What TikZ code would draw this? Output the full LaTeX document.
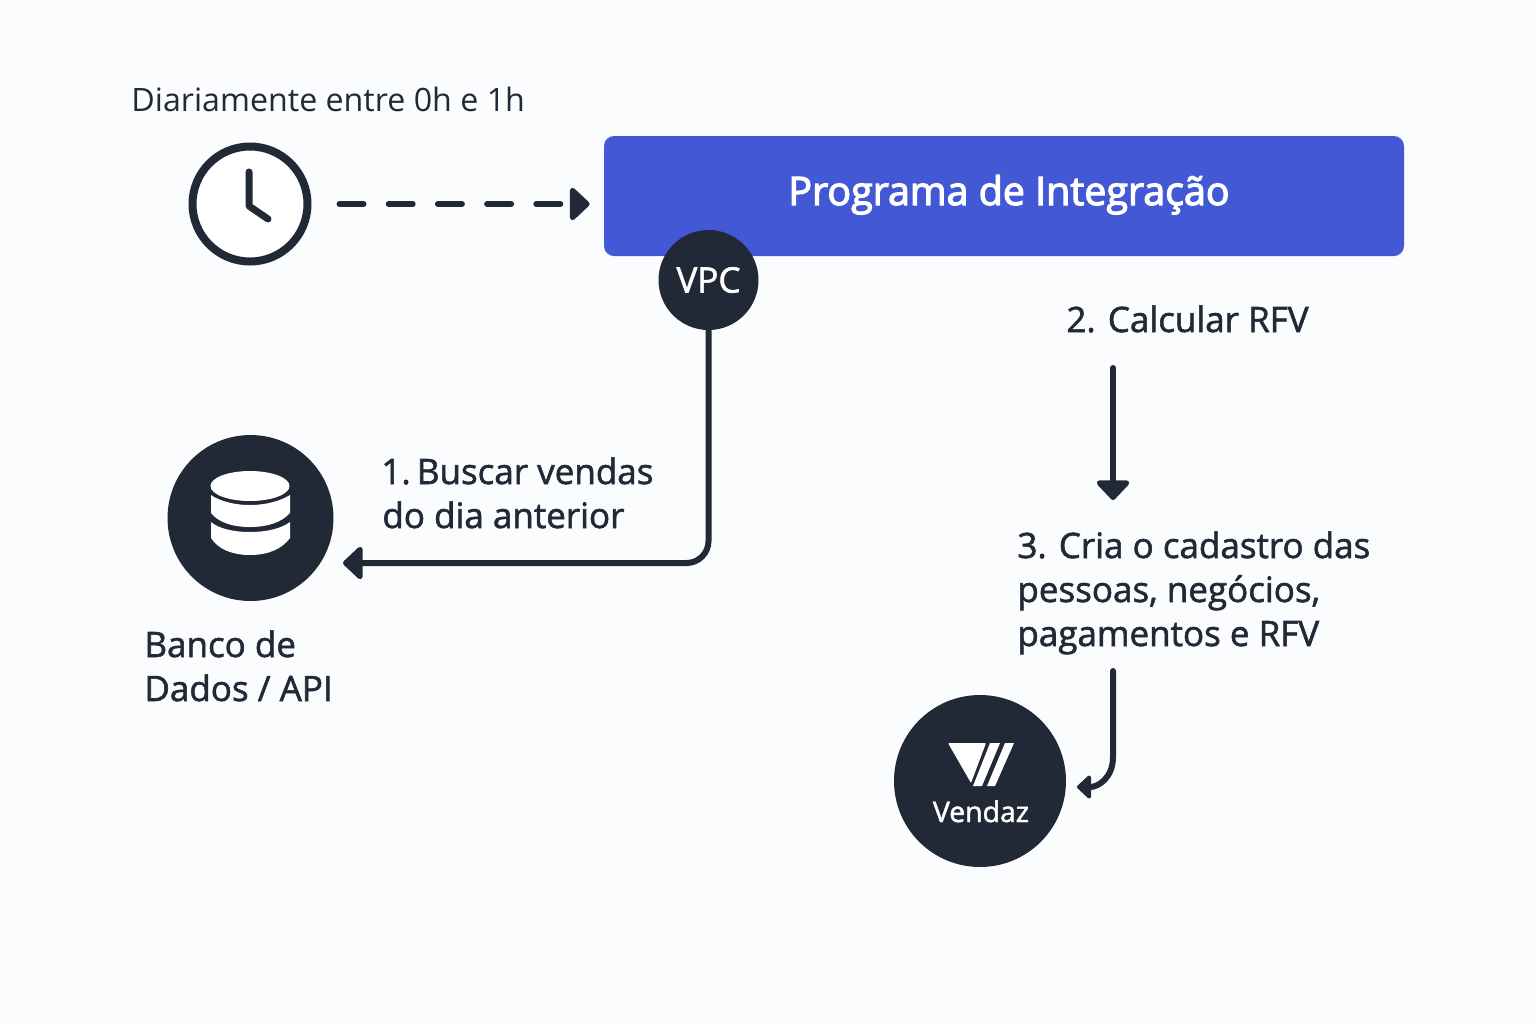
\documentclass[tikz,border=0pt]{standalone}
\usepackage{fontspec}
\setmainfont{Open Sans}
\newfontfamily\medfont[FakeBold=1.6]{Open Sans}
\newfontfamily\titlefont[FakeBold=3]{Open Sans}
\usetikzlibrary{arrows.meta}
\definecolor{ink}{HTML}{222936}
\definecolor{paper}{HTML}{FBFCFE}
\definecolor{boxblue}{HTML}{4358D5}
\tikzset{
  lab/.style={anchor=base west,inner sep=0pt,text=ink,font=\medfont\fontsize{17.5pt}{22pt}\selectfont},
  dark/.style={circle,fill=ink,inner sep=0pt},
  conn/.style={draw=ink,line width=3pt,line cap=round},
  bigtip/.style={-{Triangle[length=10.5pt,width=19pt,round]}},
  smalltip/.style={-{Triangle[length=7.5pt,width=13.5pt,round]}},
}
\begin{document}
\begin{tikzpicture}[x=0.5pt,y=-0.5pt]
\useasboundingbox (0,0) rectangle (1536,1024);
\fill[paper] (0,0) rectangle (1536,1024);
% blue box
\node[fill=boxblue,rounded corners=5pt,minimum width=400pt,minimum height=60pt,inner sep=0pt] (prog) at (1004,196) {};
\node[text=white,inner sep=0pt,anchor=base,font=\titlefont\fontsize{19.7pt}{22pt}\selectfont] (progt) at (1009,205) {Programa de Integração};
% clock
\node[circle,draw=ink,line width=4pt,fill=white,minimum size=57.5pt,inner sep=0pt] (clock) at (250,204) {};
\draw[draw=ink,line width=3.5pt,line cap=round,line join=round] (clock.center) ++(-1,-32) -- ++(0,34) -- ++(19,13);
\node[lab,font=\fontsize{16.1pt}{22pt}\selectfont] (t0) at (131,111) {Diariamente entre 0h e 1h};
\draw[conn,bigtip,yshift=0.5pt,dash pattern=on 12pt off 12.6pt,shorten <=14pt,shorten >=7pt] (clock.east) -- (prog.west |- clock.east);
% VPC
\node[dark,minimum size=50pt,text=white,font=\medfont\fontsize{17.5pt}{20pt}\selectfont] (vpc) at (708.5,280) {VPC};
% database
\node[dark,minimum size=83pt] (db) at (250.5,518) {};
\fill[white] (250,486) ellipse [x radius=39.5,y radius=15];
\fill[white] (211,495) .. controls (218,500) and (232,505) .. (250,505) .. controls (268,505) and (282,500) .. (290,495) -- (290,513) .. controls (282,522) and (268,527) .. (250,527) .. controls (232,527) and (218,522) .. (211,513) -- cycle;
\fill[white] (211,522) .. controls (218,528) and (232,532) .. (250,532) .. controls (268,532) and (282,528) .. (290,522) -- (290,538) .. controls (282,549) and (268,555) .. (250,555) .. controls (232,555) and (218,549) .. (211,538) -- cycle;
\node[lab] (t1a) at (144,657) {Banco de};
\node[lab] (t1b) at (144,701) {Dados / API};
% connector 1
\coordinate (dbin) at (343,563);
\draw[conn,bigtip,rounded corners=11pt] (vpc.south) |- (dbin);
\node[lab] (t2a) at (381,484) {1. \kern-3pt Buscar vendas};
\node[lab] (t2b) at (382,528) {do dia anterior};
% step 2
\node[lab] (t3) at (1066,332) {2. Calcular RFV};
\coordinate (s2a) at (1113,368);
\coordinate (s2b) at (1113,500);
\draw[conn,bigtip] (s2a) -- (s2b);
\node[lab] (t4a) at (1017,558) {3. Cria o cadastro das};
\node[lab] (t4b) at (1017,602) {pessoas, negócios,};
\node[lab] (t4c) at (1017,646) {pagamentos e RFV};
% Vendaz
\node[dark,minimum size=86pt] (vendaz) at (980,781) {};
\fill[white,rounded corners=0.5pt] (948,743) -- (986,743) -- (971,783) -- cycle;
\fill[white] (990,743) -- (1000,743) -- (982,786) -- (973,786) -- cycle;
\fill[white] (1005,743) -- (1014,743) -- (995,786) -- (987,786) -- cycle;
\node[text=white,inner sep=0pt,anchor=base,font=\medfont\fontsize{14.2pt}{16pt}\selectfont] (vt) at (981,822) {Vendaz};
% connector 3
\coordinate (s3a) at (1113,671);
\coordinate (s3b) at (1077,787);
\draw[conn,smalltip] (s3a) -- (1113,757) .. controls (1113,778) and (1098,787) .. (s3b);
\end{tikzpicture}
\end{document}
